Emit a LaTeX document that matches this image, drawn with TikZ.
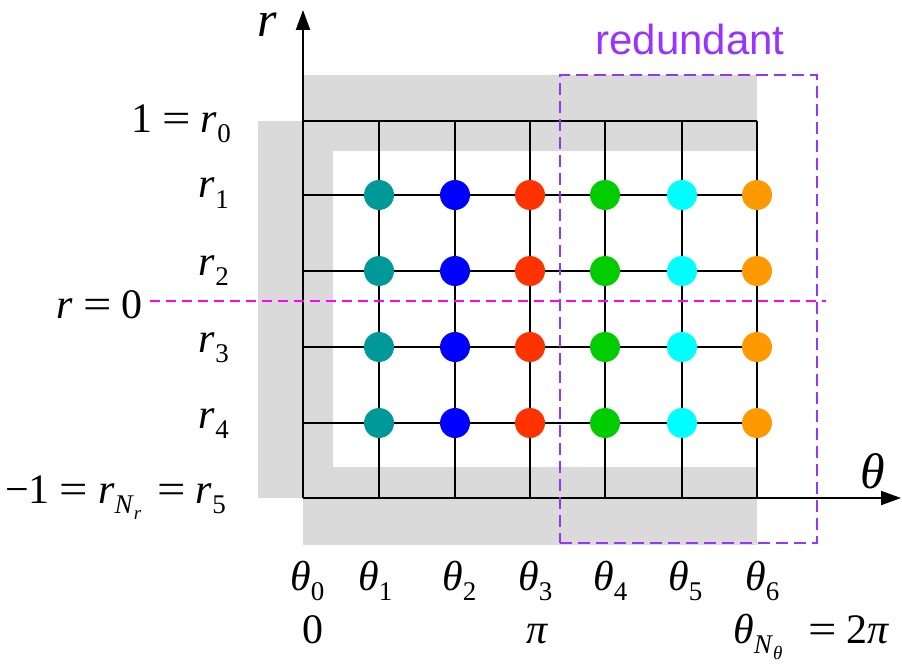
\documentclass[tikz,border=0pt]{standalone}
\usepackage{graphicx}
\usepackage{fontspec}
\setmainfont{Liberation Serif}
\setsansfont{Liberation Sans}
\usetikzlibrary{arrows.meta}
\definecolor{graybg}{RGB}{218,218,218}
\definecolor{cteal}{RGB}{0,153,153}
\definecolor{cblue}{RGB}{0,0,255}
\definecolor{cred}{RGB}{255,51,0}
\definecolor{cgreen}{RGB}{0,204,0}
\definecolor{ccyan}{RGB}{0,255,255}
\definecolor{corange}{RGB}{255,153,0}
\definecolor{cpurple}{RGB}{153,51,255}
\definecolor{cmagenta}{RGB}{255,0,255}
\newcommand{\mysub}[1]{\raisebox{-10pt}{\fontsize{27}{30}\selectfont #1}}
\newcommand{\mysubsub}[1]{\raisebox{-6pt}{\fontsize{19}{22}\selectfont #1}}
\newcommand{\eqs}{\hspace{10pt}\scalebox{1.2}[1]{=}\hspace{10pt}}
\tikzset{
  gridline/.style={line width=2pt, black},
  axisline/.style={line width=2pt, black, -{Triangle[length=20pt,width=14pt]}},
  dotnode/.style={circle, minimum size=30pt, inner sep=0pt, draw=none},
  mathlbl/.style={inner sep=0pt, font=\fontsize{42}{48}\selectfont},
  biglbl/.style={inner sep=0pt, text height=22pt, text depth=0pt, font=\fontsize{50}{56}\selectfont\itshape},
  redbox/.style={draw=cpurple, line width=1.6pt, dash pattern=on 12pt off 6pt},
  zeroline/.style={draw=cmagenta, line width=1.6pt, dash pattern=on 10pt off 6pt},
}
\begin{document}
\begin{tikzpicture}[x=1pt,y=-1pt]
\useasboundingbox (0,0) rectangle (902,671);
% gray bands
\fill[graybg] (258,121) rectangle (333,498);
\fill[graybg] (303,75) rectangle (757,151);
\fill[graybg] (303,467) rectangle (757,545);
% grid coordinates
\foreach \i/\x in {0/303,1/379,2/455,3/530,4/605,5/682,6/757}{
  \coordinate (T\i) at (\x,121);
  \coordinate (B\i) at (\x,498);
}
\foreach \j/\y in {0/121,1/195,2/271,3/347,4/423,5/498}{
  \coordinate (L\j) at (303,\y);
  \coordinate (R\j) at (757,\y);
}
\foreach \i in {1,...,6}{ \draw[gridline] (T\i) -- (B\i); }
\foreach \j in {0,...,4}{ \draw[gridline] (L\j) -- (R\j); }
% axes
\coordinate (xend) at (901,498);
\coordinate (yend) at (303,10);
\draw[axisline] (B0) -- (xend);
\draw[axisline] (B0) -- (yend);
% r = 0 line
\coordinate (m1) at (150,301);
\coordinate (m2) at (826,301);
\draw[zeroline] (m1) -- (m2);
% dots
\foreach \i/\x/\c in {1/379/cteal,2/455/cblue,3/530/cred,4/605/cgreen,5/682/ccyan,6/757/corange}{
  \foreach \j/\y in {1/195,2/271,3/347,4/423}{
    \node[dotnode, fill=\c] (d\i-\j) at (\x,\y) {};
  }
}
% redundant box
\node[redbox, minimum width=257pt, minimum height=468pt, inner sep=0pt] (redbox) at (688.5,309) {};
\node[inner sep=0pt, anchor=base, text=cpurple, font=\sffamily\fontsize{42}{48}\selectfont] (redtxt) at (690,55) {redundant};
% axis labels
\node[biglbl, anchor=base] (rlab) at (267,37) {r};
\node[biglbl, anchor=base] (thlab) at (873,488) {θ};
% r labels
\node[mathlbl, anchor=base east] (r0) at (231,133) {1\eqs\textit{r}\mysub{0}};
\node[mathlbl, anchor=base east] (r1) at (229,198) {\textit{r}\mysub{1}};
\node[mathlbl, anchor=base east] (r2) at (229,275) {\textit{r}\mysub{2}};
\node[mathlbl, anchor=base east] (r3) at (229,352) {\textit{r}\mysub{3}};
\node[mathlbl, anchor=base east] (r4) at (229,428) {\textit{r}\mysub{4}};
\node[mathlbl, anchor=base east] (r5) at (226,503) {−1\eqs\textit{r}\mysub{\textit{N}\mysubsub{\textit{r}}}\hspace{6pt}\eqs\textit{r}\mysub{5}};
\node[mathlbl, anchor=base east] (rz) at (143,318) {\textit{r}\eqs 0};
% theta labels
\foreach \i/\x in {0/290,1/358,2/442,3/518,4/593,5/668,6/745}{
  \node[mathlbl, anchor=base west] (th\i) at (\x,590) {\textit{θ}\mysub{\i}};
}
\node[mathlbl, anchor=base] (zero) at (313,643) {0};
\node[mathlbl, anchor=base] (pi) at (537,643) {\textit{π}};
\node[mathlbl, anchor=base west] (thN) at (733,643) {\textit{θ}\mysub{\textit{N}\mysubsub{\textit{θ}}}\hspace{16pt}\eqs 2\textit{π}};
\end{tikzpicture}
\end{document}
